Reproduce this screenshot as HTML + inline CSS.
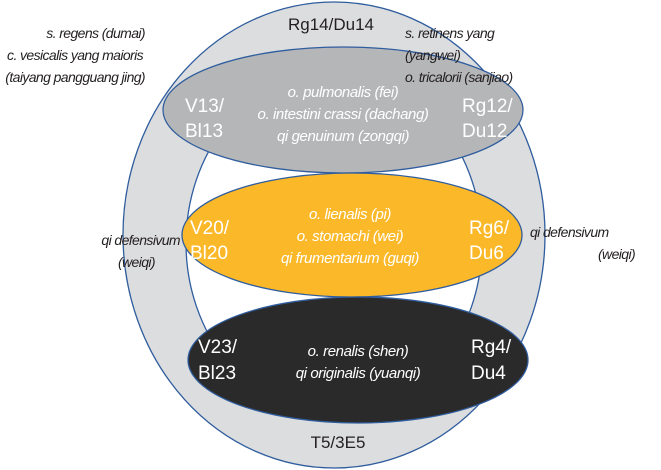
<!DOCTYPE html>
<html><head><meta charset="utf-8"><style>
html,body{margin:0;padding:0;background:#fff;}
svg{display:block}
text{font-family:"Liberation Sans",sans-serif;}
.s{font-size:14px;font-style:italic;fill:#231f20;letter-spacing:-0.6px}
.w{font-size:15px;font-style:italic;fill:#fff;letter-spacing:-0.4px}
.r{font-size:17px;fill:#231f20}
.b{font-size:19px;fill:#fff}
</style></head><body>
<svg width="661" height="470" viewBox="0 0 661 470" xmlns="http://www.w3.org/2000/svg">
<ellipse cx="334" cy="235" rx="211" ry="233" fill="#dcdddf" stroke="#2f5d9e" stroke-width="1.3"/>
<ellipse cx="334" cy="243" rx="148" ry="172" fill="#fff" stroke="#2f5d9e" stroke-width="1.3"/>
<ellipse cx="343" cy="110" rx="180" ry="63" fill="#b5b6b8" stroke="#2f5d9e" stroke-width="1.3"/>
<ellipse cx="352" cy="235" rx="170" ry="62" fill="#fbb92a" stroke="#2f5d9e" stroke-width="1.3"/>
<ellipse cx="358" cy="360" rx="170" ry="63" fill="#2b2a2b" stroke="#2f5d9e" stroke-width="1.3"/>

<text class="r" x="331" y="30" text-anchor="middle">Rg14/Du14</text>
<text class="r" x="338" y="448" text-anchor="middle">T5/3E5</text>

<text class="s" x="145" y="38" text-anchor="end">s. regens  (dumai)</text>
<text class="s" x="143" y="60" text-anchor="end">c. vesicalis yang maioris</text>
<text class="s" x="145" y="82" text-anchor="end">(taiyang pangguang jing)</text>
<text class="s" x="405" y="38">s. retinens yang</text>
<text class="s" x="405" y="60">(yangwei)</text>
<text class="s" x="405" y="82">o. tricalorii  (sanjiao)</text>

<text class="s" x="180" y="245" text-anchor="end">qi defensivum</text>
<text class="s" x="155" y="267" text-anchor="end">(weiqi)</text>
<text class="s" x="530" y="237">qi defensivum</text>
<text class="s" x="598" y="259">(weiqi)</text>

<text class="b" x="185" y="112">V13/</text>
<text class="b" x="185" y="137">Bl13</text>
<text class="b" x="462" y="112">Rg12/</text>
<text class="b" x="462" y="137">Du12</text>
<text class="w" x="343" y="97" text-anchor="middle">o. pulmonalis  (fei)</text>
<text class="w" x="343" y="119" text-anchor="middle">o. intestini crassi   (dachang)</text>
<text class="w" x="343" y="141" text-anchor="middle">qi genuinum (zongqi)</text>

<text class="b" x="190" y="234">V20/</text>
<text class="b" x="190" y="259">Bl20</text>
<text class="b" x="469" y="234">Rg6/</text>
<text class="b" x="469" y="259">Du6</text>
<text class="w" x="350" y="219" text-anchor="middle">o. lienalis  (pi)</text>
<text class="w" x="350" y="241" text-anchor="middle">o. stomachi  (wei)</text>
<text class="w" x="350" y="263" text-anchor="middle">qi frumentarium  (guqi)</text>

<text class="b" x="198" y="353">V23/</text>
<text class="b" x="198" y="379">Bl23</text>
<text class="b" x="471" y="353">Rg4/</text>
<text class="b" x="471" y="379">Du4</text>
<text class="w" x="358" y="356" text-anchor="middle">o. renalis  (shen)</text>
<text class="w" x="358" y="378" text-anchor="middle">qi originalis  (yuanqi)</text>
</svg>
</body></html>
